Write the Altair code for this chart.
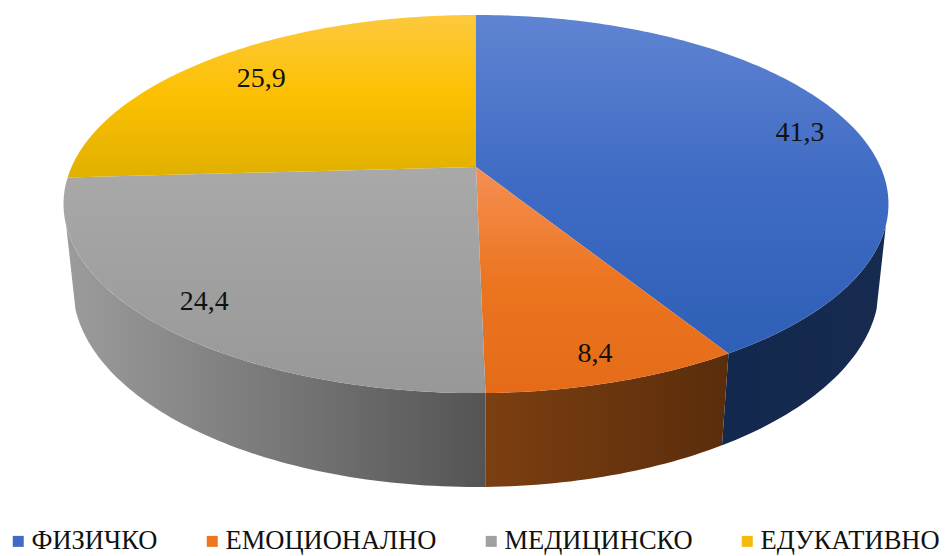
import math
import altair as alt
import pandas as pd

# ---- values
categories = ["ФИЗИЧКО", "ЕМОЦИОНАЛНО", "МЕДИЦИНСКО", "ЕДУКАТИВНО"]
values = [41.3, 8.4, 24.4, 25.9]
labels = ["41,3", "8,4", "24,4", "25,9"]
legend_colors = ["#3f6bc4", "#ee7623", "#a0a0a0", "#f5bb0a"]

# ---- styles
top_stops = [
    ["#5f84d2", "#3f6bc4", "#2f5fb6"],
    ["#f58f54", "#ec7520", "#e56b18"],
    ["#a9a9a9", "#a0a0a0", "#989898"],
    ["#fdc93e", "#fcc000", "#e0b000"],
]
wall_stops = [
    ["#13284e", "#172b50"],
    ["#7c3f11", "#5a2d0b"],
    ["#9c9c9c", "#545454"],
]
label_radius = [0.86, 0.88, 0.865, 0.81]
label_turn = [1.5, 0.0, 0.0, 0.0]

# ---- 3D perspective projection of the unit disc (screen pixels)
CX, CY, A, B, K = 476.0, 167.0, 404.5, 181.8, 0.1958
DROP_Y, DROP_W = 82.6, 0.0221
SILHOUETTE = (107.5, 252.5)


def project(theta_deg, r=1.0, h=0.0):
    t = math.radians(theta_deg)
    u, v = r * math.sin(t), r * math.cos(t)
    w = 1 + K * v + DROP_W * h
    return CX + A * u / w, CY + (-B * v + DROP_Y * h) / w


def arc(a, b, h=0.0):
    n = max(2, int(abs(b - a)) + 1)
    return [project(a + (b - a) * i / (n - 1), 1.0, h) for i in range(n)]


def frame(points):
    return pd.DataFrame(
        {"x": [p[0] for p in points], "y": [p[1] for p in points], "i": range(len(points))}
    )


X = alt.X("x:Q", scale=alt.Scale(domain=[8, 939], nice=False, zero=False), axis=None)
Y = alt.Y("y:Q", scale=alt.Scale(domain=[556, 8], nice=False, zero=False), axis=None)


def polygon(points, fill):
    return (
        alt.Chart(frame(points))
        .mark_line(fill=fill, stroke=None, strokeWidth=0, clip=False)
        .encode(x=X, y=Y, order=alt.Order("i:Q"))
    )


def gradient(stops, horizontal=False):
    n = len(stops)
    return alt.Gradient(
        gradient="linear",
        x1=0, y1=0,
        x2=1 if horizontal else 0,
        y2=0 if horizontal else 1,
        stops=[alt.GradientStop(offset=i / (n - 1), color=c) for i, c in enumerate(stops)],
    )


# slice boundaries, clockwise from 12 o'clock
total = sum(values)
edges = [0.0]
for val in values:
    edges.append(edges[-1] + val / total * 360)

layers = []

# side walls (visible part only)
wall_ranges = [
    (SILHOUETTE[0], edges[1], 0),
    (edges[1], edges[2], 1),
    (edges[2], SILHOUETTE[1], 2),
]
for a, b, idx in wall_ranges:
    pts = arc(a, b, 0.0) + arc(b, a, 1.0)
    layers.append(polygon(pts, gradient(wall_stops[idx], horizontal=True)))

# top faces
for i in range(4):
    pts = [project(0, 0.0)] + arc(edges[i], edges[i + 1])
    layers.append(polygon(pts, gradient(top_stops[i])))

# data labels
lab_rows = []
for i in range(4):
    x, y = project((edges[i] + edges[i + 1]) / 2 + label_turn[i], label_radius[i])
    lab_rows.append({"x": x, "y": y, "t": labels[i]})
layers.append(
    alt.Chart(pd.DataFrame(lab_rows))
    .mark_text(font="Times New Roman", fontSize=28, color="#111111", align="center", baseline="middle", dy=3)
    .encode(x=X, y=Y, text="t:N")
)

# legend
legend_df = pd.DataFrame({"c": categories, "x": [-100] * 4, "y": [-100] * 4})
layers.append(
    alt.Chart(legend_df)
    .mark_square(size=0, clip=True)
    .encode(
        x=X,
        y=Y,
        color=alt.Color(
            "c:N",
            sort=None,
            scale=alt.Scale(domain=categories, range=legend_colors),
            legend=alt.Legend(
                title=None,
                orient="none",
                legendX=-3,
                legendY=520,
                direction="horizontal",
                columns=4,
                symbolType="square",
                symbolSize=121,
                symbolStrokeWidth=0,
                symbolOpacity=1,
                labelFont="Times New Roman",
                labelFontSize=26.5,
                labelColor="#111111",
                labelOffset=0,
                columnPadding=41,
                labelLimit=400,
            ),
        ),
    )
)

chart = (
    alt.layer(*layers)
    .properties(width=931, height=548, autosize=alt.AutoSizeParams(type="none"), padding=0, background="white")
    .configure_view(stroke=None)
)
chart.save("out.html", embed_options={"renderer": "svg", "actions": False})
